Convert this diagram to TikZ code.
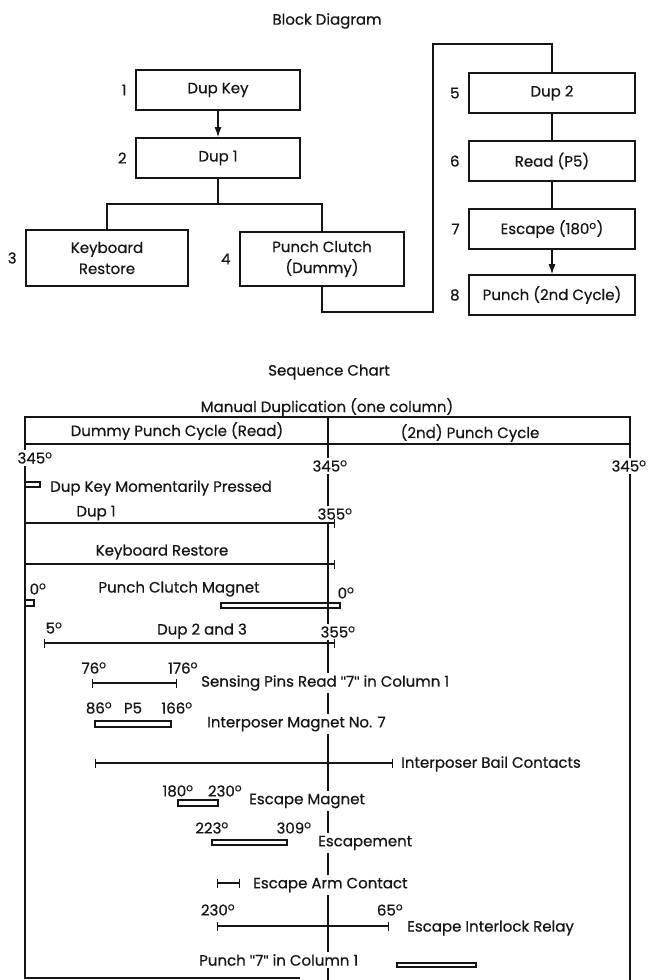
\documentclass[tikz,border=0pt]{standalone}
\usepackage{fontspec}
\setmainfont{Poppins}[FakeBold=0.5]
\newfontfamily\quotefont{Liberation Sans}[FakeBold=0.5]
\usetikzlibrary{arrows.meta}
\definecolor{ink}{HTML}{151515}
\newcommand{\dg}{\textsuperscript{o}}
\newcommand{\qt}{{\quotefont"}}
\tikzset{
  blockbox/.style={draw=ink,line width=1.8pt,minimum width=164pt,minimum height=40pt,align=center,font=\fontsize{15}{21}\selectfont},
  steplabel/.style={font=\fontsize{15}{18}\selectfont,label distance=5pt},
  flow/.style={draw=ink,line width=1.1pt},
  flowarrow/.style={flow,-{Latex[length=10pt,width=7pt]}},
  chartline/.style={draw=ink,line width=1.2pt},
  chartbar/.style={draw=ink,line width=1.2pt},
  charttext/.style={font=\fontsize{15}{18}\selectfont,fill=white,inner xsep=1pt,inner ysep=2.5pt},
  span/.style={chartline,{Bar[width=9pt]}-{Bar[width=9pt]}},
  endspan/.style={chartline,-{Bar[width=9pt]}}
}

\begin{document}
\begin{tikzpicture}[x=1pt,y=-1pt,text=ink]
\useasboundingbox (0,0) rectangle (650,980);

% block diagram
\node[font=\fontsize{15}{18}\selectfont] (blocktitle) at (327,21) {Block Diagram};
\node[blockbox,label={[steplabel]left:1}] (dupkey) at (218,90) {Dup Key};
\node[blockbox,label={[steplabel]left:2}] (dup1) at (218,158) {Dup 1};
\node[blockbox,minimum width=162pt,minimum height=56pt,label={[steplabel]left:3}] (kbrestore) at (107,258) {Keyboard\\Restore};
\node[blockbox,minimum height=54pt,label={[steplabel]left:4}] (clutch) at (322,259) {Punch Clutch\\(Dummy)};
\node[blockbox,minimum width=166pt,label={[steplabel]left:5}] (dup2) at (552,93) {Dup 2};
\node[blockbox,minimum width=166pt,label={[steplabel]left:6}] (readp5) at (552,161) {Read (P5)};
\node[blockbox,minimum width=166pt,label={[steplabel]left:7}] (escape) at (552,229) {Escape (180\dg)};
\node[blockbox,minimum width=166pt,label={[steplabel]left:8}] (punch) at (552,295) {Punch (2nd Cycle)};

\coordinate (split) at (218,204);
\coordinate (lowbend) at (433,312);
\coordinate (highbend) at (433,44);
\draw[flowarrow] (dupkey) -- (dup1);
\draw[flow] (dup1) -- (split);
\draw[flow] (kbrestore.north) |- (split) -| (clutch.north);
\draw[flow] (clutch) |- (lowbend) -- (highbend) -| (dup2);
\draw[flow] (dup2) -- (readp5);
\draw[flow] (readp5) -- (escape);
\draw[flowarrow] (escape) -- (punch);

% sequence chart frame
\node[font=\fontsize{15}{18}\selectfont] (seqtitle) at (329,372) {Sequence Chart};
\node[font=\fontsize{15}{18}\selectfont] (modetitle) at (327,407) {Manual Duplication (one column)};
\draw[chartline] (25,417) rectangle (630,444);
\draw[chartline] (25,417) -- (25,978) -- (300,978);
\draw[chartline] (328,417) -- (328,980);
\draw[chartline] (630,417) -- (630,980);
\node[font=\fontsize{15}{18}\selectfont] (dummycycle) at (177,431) {Dummy Punch Cycle (Read)};
\node[font=\fontsize{15}{18}\selectfont] (secondcycle) at (470,433) {(2nd) Punch Cycle};

% degree marks and row texts
\node[charttext] (startdeg) at (35,458) {345\dg};
\node[charttext] (middeg) at (330,466) {345\dg};
\node[charttext] (enddeg) at (629,466) {345\dg};
\node[charttext,anchor=west] (dupkeytxt) at (49,488) {Dup Key Momentarily Pressed};
\node[charttext] (dup1txt) at (96,513) {Dup 1};
\node[charttext] (dup1end) at (335,514) {355\dg};
\node[charttext] (kbtxt) at (162,552) {Keyboard Restore};
\node[charttext] (clutchtxt) at (179,589) {Punch Clutch Magnet};
\node[charttext] (clutchon) at (38,589) {0\dg};
\node[charttext] (clutchoff) at (346,593) {0\dg};
\node[charttext] (dup23start) at (54,628) {5\dg};
\node[charttext] (dup23txt) at (202,631) {Dup 2 and 3};
\node[charttext] (dup23end) at (338,632) {355\dg};
\node[charttext] (sensestart) at (94,668) {76\dg};
\node[charttext] (senseend) at (183,668) {176\dg};
\node[charttext,anchor=west] (sensetxt) at (200,683) {Sensing Pins Read \qt7\qt{} in Column 1};
\node[charttext] (imagstart) at (99,708) {86\dg};
\node[charttext] (imagpulse) at (133,708) {P5};
\node[charttext] (imagend) at (177,708) {166\dg};
\node[charttext,anchor=west] (imagtxt) at (206,724) {Interposer Magnet No. 7};
\node[charttext,anchor=west] (bailtxt) at (400,764) {Interposer Bail Contacts};
\node[charttext] (emagstart) at (178,791) {180\dg};
\node[charttext] (emagend) at (225,791) {230\dg};
\node[charttext,anchor=west] (emagtxt) at (248,801) {Escape Magnet};
\node[charttext] (escmstart) at (212,828) {223\dg};
\node[charttext] (escmend) at (294,828) {309\dg};
\node[charttext,anchor=west] (escmtxt) at (317,843) {Escapement};
\node[charttext,anchor=west] (armtxt) at (252,885) {Escape Arm Contact};
\node[charttext] (relaystart) at (218,910) {230\dg};
\node[charttext] (relayend) at (390,910) {65\dg};
\node[charttext,anchor=west] (relaytxt) at (406,928) {Escape Interlock Relay};
\node[charttext,anchor=west] (punch7txt) at (198,960) {Punch \qt7\qt{} in Column 1};

% timing bars and spans
\draw[chartbar] (25,482) rectangle (40,487);
\draw[endspan] (25,523) -- (335,523);
\draw[endspan] (25,564) -- (335,564);
\draw[chartbar] (25,600) rectangle (34,606);
\draw[chartbar] (221,603) rectangle (340,608);
\draw[span] (44,643) -- (335,643);
\draw[span] (92,683) -- (177,683);
\draw[chartbar] (95,721) rectangle (171,727);
\draw[span] (95,763) -- (393,763);
\draw[chartbar] (178,800) rectangle (218,806);
\draw[chartbar] (212,840) rectangle (287,845);
\draw[span] (217,883) -- (240,883);
\draw[span] (217,926) -- (389,926);
\draw[chartbar] (397,963) rectangle (476,967);
\end{tikzpicture}
\end{document}
